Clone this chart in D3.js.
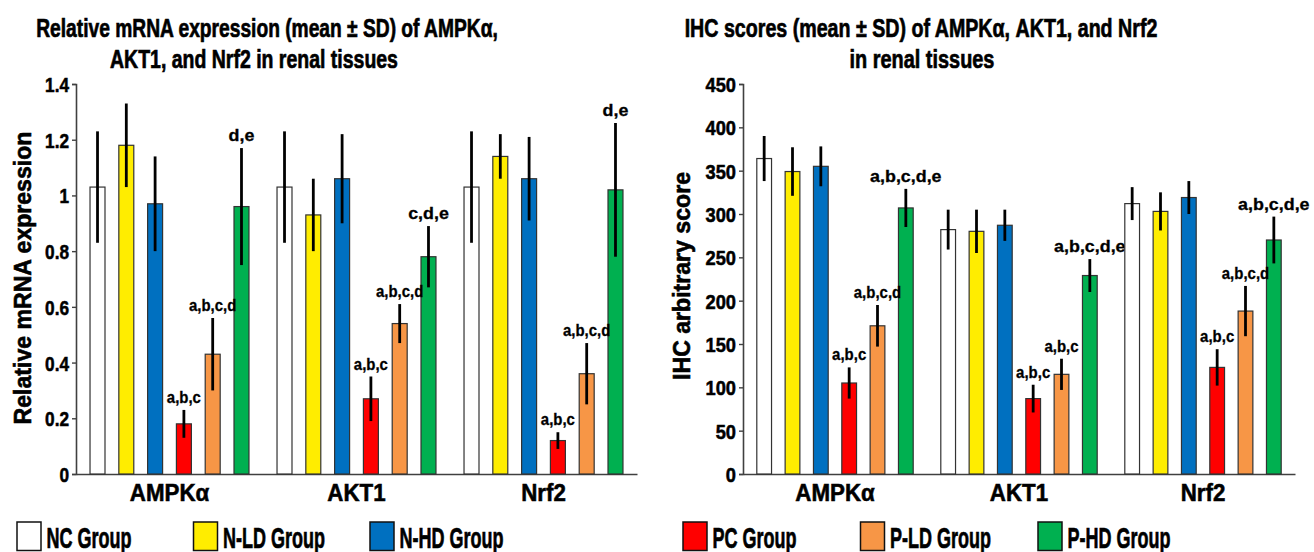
<!DOCTYPE html>
<html>
<head>
<meta charset="utf-8">
<script src="https://cdn.jsdelivr.net/npm/d3@7"></script>
<style>
  html, body { margin: 0; padding: 0; background: #fff; }
  svg { display: block; }
  text { font-family: "Liberation Sans", Arial, sans-serif; font-weight: bold; fill: #000; stroke: #000; stroke-width: 0.55px; }
</style>
</head>
<body>
<svg id="chart" width="1314" height="552"></svg>
<script>
// ---------- data ----------
const groups = ["NC Group", "N-LD Group", "N-HD Group", "PC Group", "P-LD Group", "P-HD Group"];
const groupColors = ["#FFFFFF", "#FFED00", "#0070C0", "#FF0000", "#F79646", "#00B050"];
const genes = ["AMPKα", "AKT1", "Nrf2"];

// Relative mRNA expression
const mrnaMeanAMPK = [1.03, 1.18, 0.97, 0.18, 0.43, 0.96];
const mrnaSdAMPK   = [0.20, 0.15, 0.17, 0.05, 0.13, 0.21];
const mrnaMeanAKT1 = [1.03, 0.93, 1.06, 0.27, 0.54, 0.78];
const mrnaSdAKT1   = [0.20, 0.13, 0.16, 0.08, 0.07, 0.11];
const mrnaMeanNrf2 = [1.03, 1.14, 1.06, 0.12, 0.36, 1.02];
const mrnaSdNrf2   = [0.20, 0.08, 0.15, 0.03, 0.11, 0.24];
const mrnaLabelsAMPK = ["", "", "", "a,b,c", "a,b,c,d", "d,e"];
const mrnaLabelsAKT1 = ["", "", "", "a,b,c", "a,b,c,d", "c,d,e"];
const mrnaLabelsNrf2 = ["", "", "", "a,b,c", "a,b,c,d", "d,e"];
const mrnaTicks = [0, 0.2, 0.4, 0.6, 0.8, 1.0, 1.2, 1.4];
const mrnaTickLabels = ["0", "0.2", "0.4", "0.6", "0.8", "1", "1.2", "1.4"];

// IHC scores
const ihcMeanAMPK = [364, 349, 355, 105, 171, 307];
const ihcSdAMPK   = [26, 28, 23, 18, 24, 22];
const ihcMeanAKT1 = [282, 280, 287, 87, 115, 229];
const ihcSdAKT1   = [23, 25, 18, 16, 18, 19];
const ihcMeanNrf2 = [312, 303, 319, 123, 188, 270];
const ihcSdNrf2   = [19, 22, 19, 21, 29, 27];
const ihcLabelsAMPK = ["", "", "", "a,b,c", "a,b,c,d", "a,b,c,d,e"];
const ihcLabelsAKT1 = ["", "", "", "a,b,c", "a,b,c", "a,b,c,d,e"];
const ihcLabelsNrf2 = ["", "", "", "a,b,c", "a,b,c,d", "a,b,c,d,e"];
const ihcTicks = [0, 50, 100, 150, 200, 250, 300, 350, 400, 450];
const ihcTickLabels = ["0", "50", "100", "150", "200", "250", "300", "350", "400", "450"];

const titleLeft = ["Relative mRNA expression (mean ± SD) of AMPKα,", "AKT1, and Nrf2 in renal tissues"];
const titleRight = ["IHC scores (mean ± SD) of AMPKα, AKT1, and Nrf2", "in renal tissues"];
const yTitleLeft = "Relative mRNA expression";
const yTitleRight = "IHC arbitrary score";

// ---------- helpers ----------
const svg = d3.select("#chart");

// condense text horizontally (narrow bold look)
function squeeze(sel, factor) {
  sel.each(function () {
    const w = this.getComputedTextLength();
    if (w > 0) d3.select(this).attr("textLength", w * factor).attr("lengthAdjust", "spacingAndGlyphs");
  });
}
// place a centred text at (x,y) and scale it horizontally to a target width
function scaledText(parent, str, x, y, size, width, stroke, rotate) {
  const t = parent.append("text").attr("text-anchor", "middle")
    .style("font-size", size + "px").style("stroke-width", stroke + "px").text(str);
  const w = t.node().getComputedTextLength();
  const s = width / w;
  t.attr("transform", rotate
    ? `translate(${x},${y}) rotate(-90) scale(${s},1)`
    : `translate(${x},${y}) scale(${s},1)`);
  return t;
}

function buildRows(means, sds, labels) {
  return genes.map((g, gi) => groups.map((grp, i) => ({
    gene: g, group: grp, color: groupColors[i],
    mean: means[gi][i], sd: sds[gi][i], label: labels[gi][i]
  })));
}

function drawChart(cfg) {
  const x0 = d3.scaleBand().domain(genes).range([cfg.left, cfg.right]).padding(0);
  const x1 = d3.scaleBand().domain(groups).range([0, x0.bandwidth()])
    .paddingInner(0.48).paddingOuter(0.487);
  const y = d3.scaleLinear().domain(cfg.domain).range([474, 84]);

  const g = svg.append("g");

  // y axis
  const yAxis = d3.axisLeft(y).tickValues(cfg.ticks)
    .tickFormat((d, i) => cfg.tickLabels[i]).tickSize(4).tickPadding(3);
  const ya = g.append("g").attr("transform", `translate(${cfg.left},0)`).call(yAxis);
  ya.select(".domain").attr("stroke", "#404040").attr("stroke-width", 1.6);
  ya.selectAll(".tick line").attr("stroke", "#404040").attr("stroke-width", 1.4);
  const tt = ya.selectAll(".tick text").style("font-size", "21px").attr("fill", "#000")
    .attr("font-family", "Liberation Sans").attr("font-weight", "bold").attr("dy", "0.36em");
  squeeze(tt, cfg.tickSqueeze);

  // x axis (baseline, no ticks)
  const xAxis = d3.axisBottom(x0).tickSize(0).tickPadding(11);
  const xa = g.append("g").attr("transform", `translate(0,${y(0)})`).call(xAxis);
  xa.select(".domain").attr("stroke", "#404040").attr("stroke-width", 1.6);
  const ct = xa.selectAll(".tick text").style("font-size", "23px").attr("fill", "#000")
    .attr("font-family", "Liberation Sans").attr("font-weight", "bold");
  squeeze(ct, 0.97);

  const rows = buildRows(cfg.means, cfg.sds, cfg.labels);
  const gg = g.selectAll("g.gene").data(rows).join("g")
    .attr("class", "gene")
    .attr("transform", d => `translate(${x0(d[0].gene)},0)`);

  gg.selectAll("rect").data(d => d).join("rect")
    .attr("x", d => x1(d.group))
    .attr("width", x1.bandwidth())
    .attr("y", d => y(d.mean))
    .attr("height", d => y(0) - y(d.mean))
    .attr("fill", d => d.color)
    .attr("stroke", "#333")
    .attr("stroke-width", 1.2);

  gg.selectAll("line.err").data(d => d).join("line")
    .attr("class", "err")
    .attr("x1", d => x1(d.group) + x1.bandwidth() / 2)
    .attr("x2", d => x1(d.group) + x1.bandwidth() / 2)
    .attr("y1", d => y(d.mean + d.sd))
    .attr("y2", d => y(d.mean - d.sd))
    .attr("stroke", "#000").attr("stroke-width", 2.8);

  const st = gg.selectAll("text.sig").data(d => d.filter(r => r.label)).join("text")
    .attr("class", "sig")
    .attr("x", d => x1(d.group) + x1.bandwidth() / 2)
    .attr("y", d => y(d.mean + d.sd) - 7)
    .attr("text-anchor", "middle")
    .style("font-size", "17px")
    .style("stroke-width", "0.3px")
    .text(d => d.label);
  st.each(function (d) {
    squeeze(d3.select(this), d.label.includes("e") ? 1.05 : 0.88);
  });

  // titles
  cfg.title.forEach((t, i) => {
    scaledText(g, t, cfg.titleX[i], 37 + i * 31, 26.5, cfg.titleW[i], 0.7, false);
  });
  scaledText(g, cfg.yTitle, cfg.yTitleX, cfg.yTitleY, 24, cfg.yTitleW, 0.6, true);
}

drawChart({
  left: 76, right: 637, domain: [0, 1.4], ticks: mrnaTicks, tickLabels: mrnaTickLabels, tickSqueeze: 0.82,
  means: [mrnaMeanAMPK, mrnaMeanAKT1, mrnaMeanNrf2],
  sds: [mrnaSdAMPK, mrnaSdAKT1, mrnaSdNrf2],
  labels: [mrnaLabelsAMPK, mrnaLabelsAKT1, mrnaLabelsNrf2],
  title: titleLeft, titleX: [267, 254], titleW: [462, 288],
  yTitle: yTitleLeft, yTitleX: 31, yTitleY: 278, yTitleW: 293
});
drawChart({
  left: 743, right: 1295, domain: [0, 450], ticks: ihcTicks, tickLabels: ihcTickLabels, tickSqueeze: 0.87,
  means: [ihcMeanAMPK, ihcMeanAKT1, ihcMeanNrf2],
  sds: [ihcSdAMPK, ihcSdAKT1, ihcSdNrf2],
  labels: [ihcLabelsAMPK, ihcLabelsAKT1, ihcLabelsNrf2],
  title: titleRight, titleX: [921, 922], titleW: [473, 145],
  yTitle: yTitleRight, yTitleX: 690, yTitleY: 276, yTitleW: 208
});

// legend
const legend = svg.append("g");
const lg = legend.selectAll("g").data(groups).join("g")
  .attr("transform", (d, i) => `translate(${i < 3 ? 17 + i * 176.5 : 683 + (i - 3) * 177.5},522)`);
lg.append("rect").attr("width", 24).attr("height", 28.5)
  .attr("fill", (d, i) => groupColors[i]).attr("stroke", "#111").attr("stroke-width", 1.5);
const lt = lg.append("text").attr("x", 29.5).attr("y", 25.5).style("font-size", "30px")
  .style("stroke-width", "0.7px").text(d => d);
squeeze(lt, 0.6);
</script>
</body>
</html>
